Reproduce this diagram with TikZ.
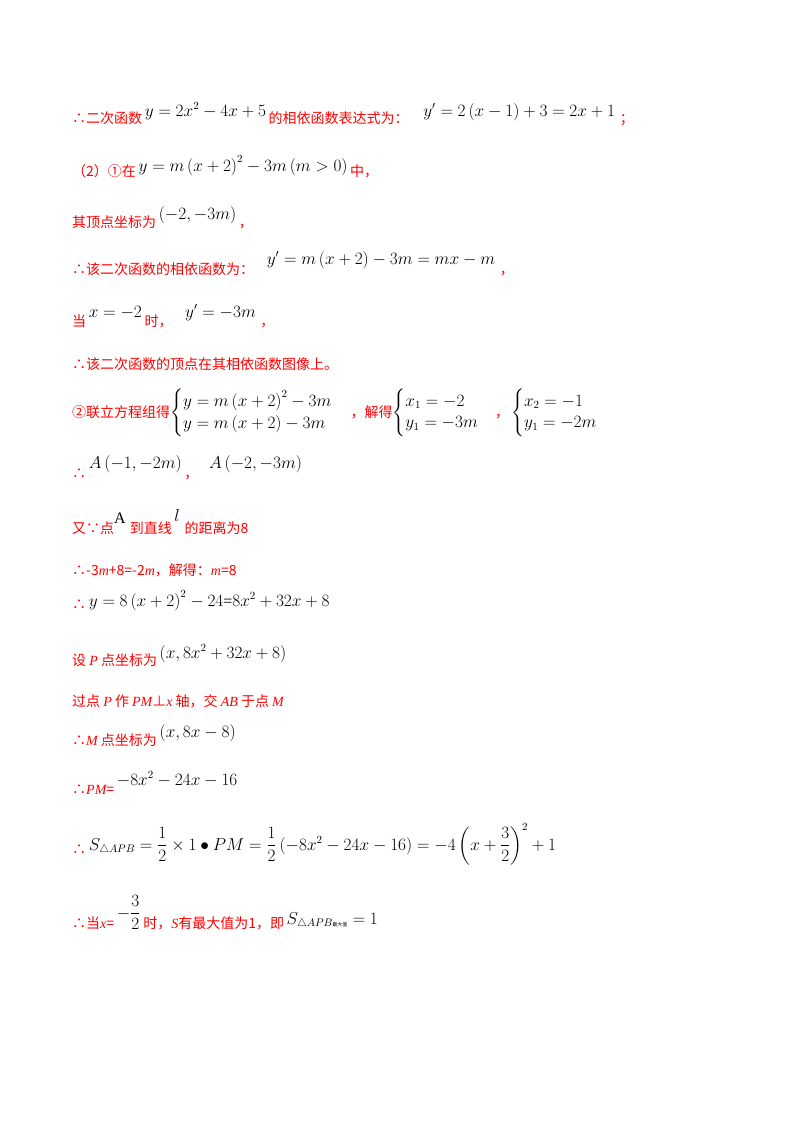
\documentclass[tikz,border=0pt]{standalone}
\usepackage{fontspec}
\usepackage{amsmath,amssymb}
\setmainfont{Liberation Serif}
\newfontfamily\cjk{Noto Sans CJK SC}
\newcommand\R[1]{\textcolor{red}{\fontsize{14}{16}\selectfont\cjk #1}}
\newcommand\I[1]{{\rmfamily\itshape #1}}
\newcommand\Mr[2]{\,\raisebox{#1pt}{$#2$}\,}
\begin{document}
\begin{tikzpicture}[x=1pt,y=-1pt,every node/.style={anchor=base west,inner sep=0pt,font=\fontsize{16}{18}\selectfont}]
\useasboundingbox[fill=white] (0,0) rectangle (800,1132);
\node (l1) at (72,123) {\R{∴二次函数}\Mr{7}{y=2x^2-4x+5}\R{的相依函数表达式为：}\hspace{12pt}\Mr{7}{y'=2\left(x-1\right)+3=2x+1}\hspace{2pt}\R{；}};
\node (l2) at (72,176) {\R{（2）①在}\Mr{5}{y=m\left(x+2\right)^2-3m\left(m>0\right)}\R{中，}};
\node (l3) at (72,227) {\R{其顶点坐标为}\Mr{8}{\left(-2,-3m\right)}\R{，}};
\node (l4) at (72,274) {\R{∴该二次函数的相依函数为：}\hspace{10pt}\Mr{10}{y'=m\left(x+2\right)-3m=mx-m}\hspace{2pt}\R{，}};
\node (l5) at (72,326) {\R{当}\Mr{9}{x=-2}\R{时，}\hspace{10pt}\Mr{9}{y'=-3m}\hspace{2pt}\R{，}};
\node (l6) at (72,369) {\R{∴该二次函数的顶点在其相依函数图像上。}};
\node (l7) at (72,417) {\R{②联立方程组得}$\begin{cases}y=m\left(x+2\right)^2-3m\\ y=m\left(x+2\right)-3m\end{cases}$\hspace{2pt}\R{，解得}$\begin{cases}x_1=-2\\ y_1=-3m\end{cases}$\R{，}\hspace{2pt}$\begin{cases}x_2=-1\\ y_1=-2m\end{cases}$};
\node (l8) at (72,478) {\R{∴}\Mr{10}{A\left(-1,-2m\right)}\R{，}\hspace{8pt}\Mr{10}{A\left(-2,-3m\right)}};
\node (l9) at (72,533) {\R{又∵点}\raisebox{10pt}{A}\hspace{4pt}\R{到直线}\Mr{12}{l}\hspace{2pt}\R{的距离为8}};
\node (l10) at (72,575) {\R{∴-3\I{m}+8=-2\I{m}，解得：\I{m}=8}};
\node (l11) at (72,609) {\R{∴}\Mr{3}{y=8\left(x+2\right)^2-24\text{=}8x^2+32x+8}};
\node (l12) at (72,665) {\R{设 \I{P} 点坐标为}\Mr{7}{\left(x,8x^2+32x+8\right)}};
\node (l13) at (72,706) {\R{过点 \I{P} 作 \I{PM}⊥\I{x} 轴，交 \I{AB} 于点 \I{M}}};
\node (l14) at (72,745) {\R{∴\I{M} 点坐标为}\Mr{8}{\left(x,8x-8\right)}};
\node (l15) at (72,794) {\R{∴\I{PM}=}\Mr{9}{-8x^2-24x-16}};
\node (l16) at (72,854) {\R{∴}\Mr{4}{S_{\triangle APB}=\dfrac12\times1\bullet PM=\dfrac12\left(-8x^2-24x-16\right)=-4\left(x+\dfrac32\right)^2+1}};
\node (l17) at (72,928) {\R{∴当\I{x}=}\Mr{10}{-\dfrac32}\R{时，\I{S}有最大值为1，即}\Mr{4}{S_{\triangle APB\text{\cjk\tiny 最大值}}=1}};
\end{tikzpicture}
\end{document}
